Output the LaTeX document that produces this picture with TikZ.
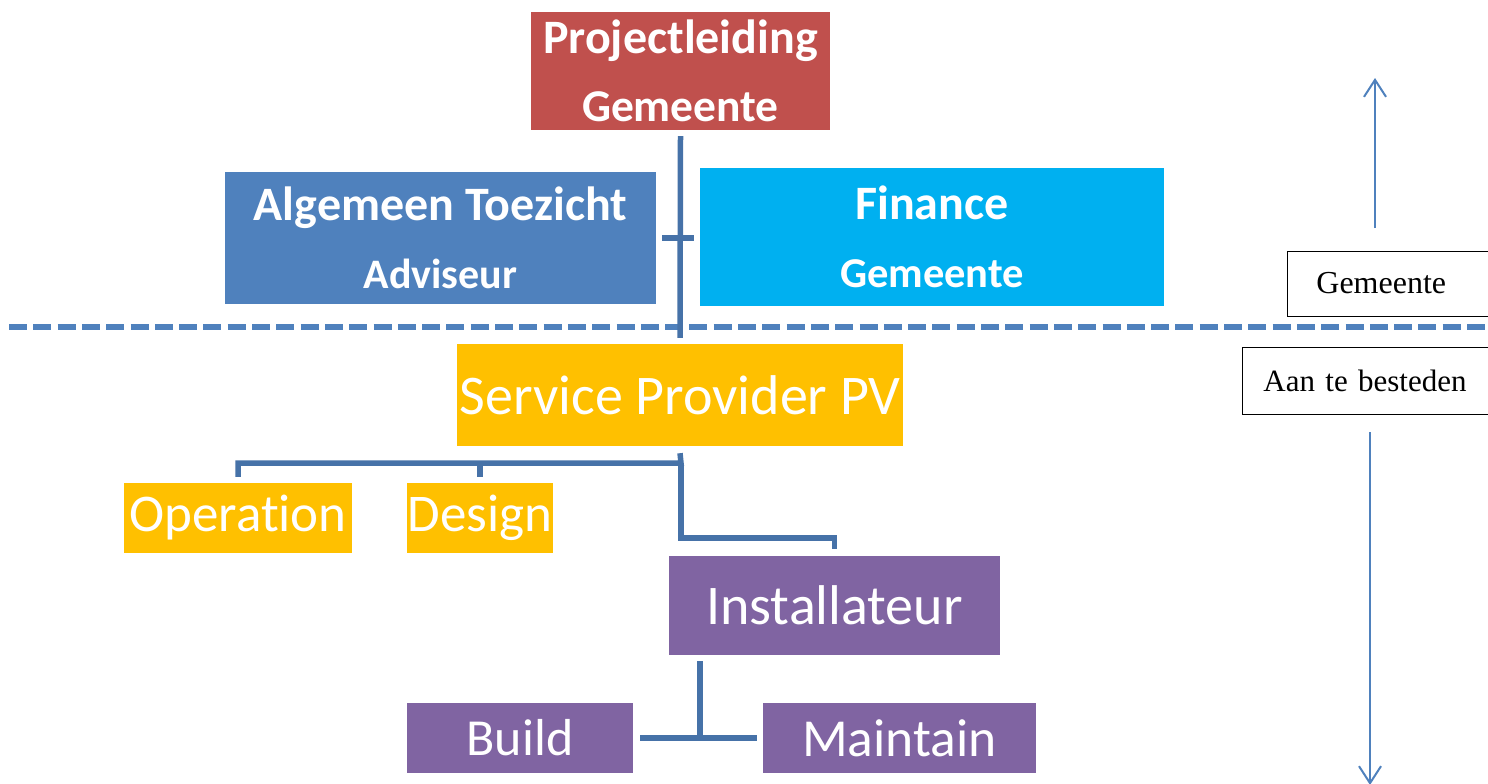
\documentclass[tikz,border=0pt]{standalone}
\usepackage{fontspec}
\setmainfont{Carlito}[Ligatures=NoCommon]
\newfontfamily\seriffont{Liberation Serif}
\usetikzlibrary{arrows.meta,calc}
\definecolor{cred}{HTML}{C0504D}
\definecolor{cblue}{HTML}{4F81BD}
\definecolor{ccyan}{HTML}{00B0F0}
\definecolor{cgold}{HTML}{FFC000}
\definecolor{cpurple}{HTML}{8064A2}
\definecolor{clink}{HTML}{4672A8}
\begin{document}
\begin{tikzpicture}[x=1pt,y=-1pt,
  box/.style={draw=none, inner sep=0pt, text=white, align=center},
  bigbold/.style={font=\bfseries\fontsize{48}{68}\selectfont},
  plain/.style={font=\fontsize{52}{60}\selectfont},
  link/.style={draw=clink, line width=5.5pt},
  label/.style={draw=black, line width=0.8pt, inner ysep=0pt, align=left, font=\seriffont\fontsize{32}{36}\selectfont, anchor=west},
  side/.style={draw=cblue, line width=2pt, -{Straight Barb[length=17pt,width=22pt]}}
]
\useasboundingbox (0,0) rectangle (1488,784);

% boxes
\node[box, fill=cred, minimum width=299pt, minimum height=118pt, bigbold] (proj) at (680.5,71) {Projectleiding\\{\fontsize{45.5}{68}\selectfont Gemeente}};
\node[box, fill=cblue, minimum width=431pt, minimum height=132pt, bigbold] (alg) at (440.5,238) {Algemeen Toezicht\\{\fontsize{42}{68}\selectfont Adviseur}};
\node[box, fill=ccyan, minimum width=464pt, minimum height=138pt, bigbold] (fin) at (932,237) {Finance\\{\fontsize{42.5}{68}\selectfont Gemeente}};
\node[box, fill=cgold, minimum width=446pt, minimum height=102pt, plain, font=\fontsize{56}{60}\selectfont] (sp) at (680,395) {Service Provider PV};
\node[box, fill=cgold, minimum width=228pt, minimum height=70pt, plain, font=\fontsize{53}{60}\selectfont] (op) at (238,518) {Operation};
\node[box, fill=cgold, minimum width=146pt, minimum height=70pt, plain, font=\fontsize{53}{60}\selectfont] (des) at (480,518) {Design};
\node[box, fill=cpurple, minimum width=331pt, minimum height=99pt, plain, font=\fontsize{56}{60}\selectfont] (inst) at (834.5,605.5) {Installateur};
\node[box, fill=cpurple, minimum width=226pt, minimum height=70pt, plain] (build) at (520,738) {Build};
\node[box, fill=cpurple, minimum width=273pt, minimum height=70pt, plain, font=\fontsize{53.5}{60}\selectfont] (maint) at (899.5,738) {Maintain};

% side labels
\node[label, inner xsep=29pt, text width=190pt, minimum height=65pt] (gem) at (1287,283.5) {Gemeente};
\node[label, inner xsep=21pt, text width=230pt, minimum height=67pt, font=\seriffont\fontsize{31}{36}\selectfont] (aan) at (1242,380.5) {Aan te besteden};

% dashed separator
\draw[cblue, line width=6pt, dash pattern=on 18pt off 6.3pt] (9,327) -- (1500,327);

% connectors
\coordinate (vtop) at ([yshift=-6pt]proj.south);
\coordinate (vbot) at ([yshift=6pt]sp.north);
\draw[link] (vtop) -- (vbot);
\coordinate (cross) at (681,238);
\draw[link] ([xshift=-19pt]cross) -- ([xshift=13pt]cross);

\coordinate (spb) at ([yshift=-7pt]sp.south);
\coordinate (j1) at (681,463);
\coordinate (opt) at ([yshift=6pt]op.north);
\coordinate (dest) at ([yshift=6pt]des.north);
\coordinate (instt) at ([yshift=7pt]inst.north);
\draw[link] (spb) -- (j1) -| (opt);
\draw[link] (dest) -- (dest |- j1);
\draw[link] (j1) -- (681,538) -| (instt);

\coordinate (instb) at ([yshift=-6pt]inst.south);
\coordinate (j2) at (700,738);
\draw[link] (j2) -- (j2 |- instb);
\draw[link] ([xshift=7pt]build.east) -- ([xshift=-6pt]maint.west);

% side arrows
\coordinate (upstart) at (1375,228);
\coordinate (upend) at (1375,78);
\coordinate (dnstart) at (1370,432);
\coordinate (dnend) at (1370,785);
\draw[side] (upstart) -- (upend);
\draw[side] (dnstart) -- (dnend);
\end{tikzpicture}
\end{document}
